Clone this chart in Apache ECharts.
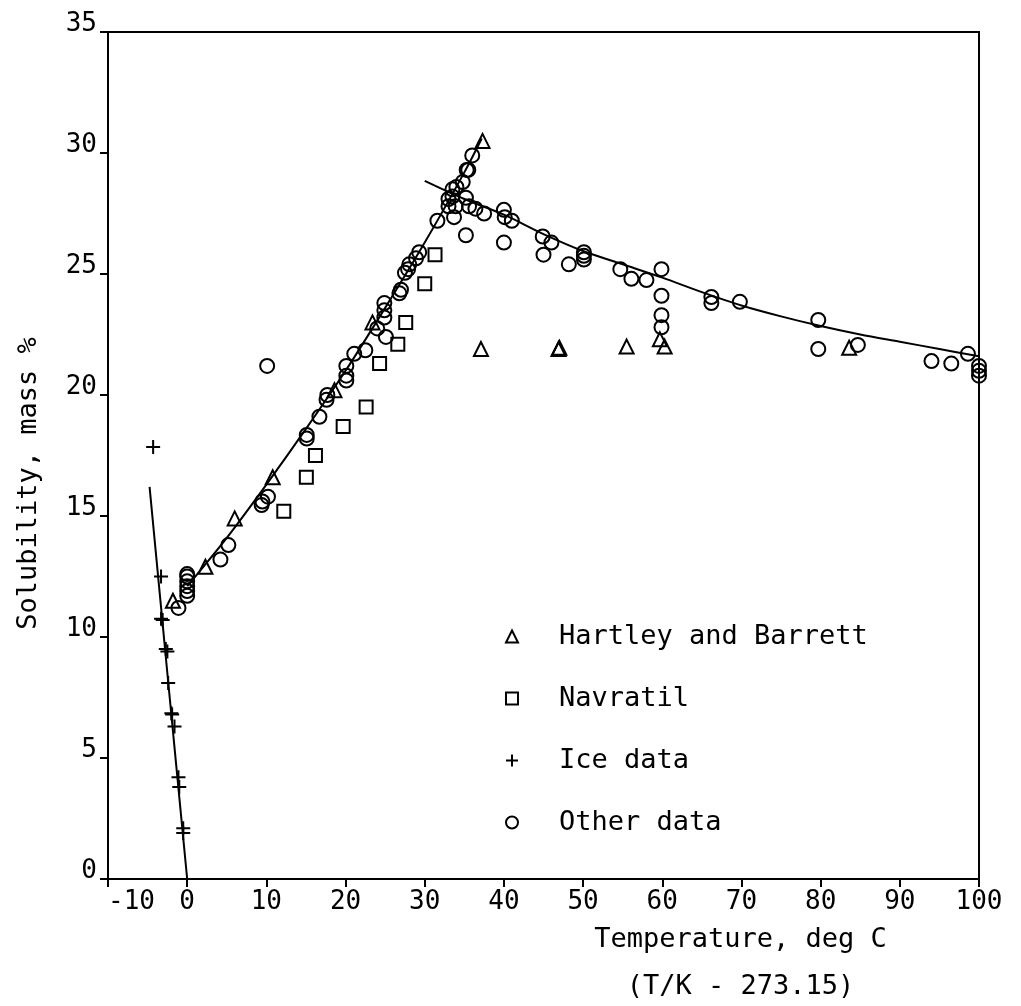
<!DOCTYPE html>
<html>
<head>
<meta charset="utf-8">
<script src="https://cdn.jsdelivr.net/npm/echarts@6/dist/echarts.min.js"></script>
<style>
html, body { margin: 0; padding: 0; background: #fff; }
#chart { width: 1021px; height: 1006px; }
</style>
</head>
<body>
<div id="chart"></div>
<script>
// [temperature degC, solubility mass %]
var hartleyData = [
	[-1.8, 11.5], [2.3, 12.9], [6.0, 14.9], [10.8, 16.6], [18.6, 20.2], [23.4, 23.0],
	[37.3, 30.5], [37.1, 21.9], [46.9, 21.9], [47.0, 21.95], [55.5, 22.0],
	[59.7, 22.3], [60.3, 22.0], [83.6, 21.95]
];
var navratilData = [
	[12.2, 15.2], [15.05, 16.6], [16.2, 17.5], [19.7, 18.7], [22.6, 19.5],
	[24.3, 21.3], [26.6, 22.1], [27.6, 23.0], [30.0, 24.6], [31.3, 25.8]
];
var iceData = [
	[-4.3, 17.85], [-3.3, 12.5], [-3.3, 10.75], [-3.1, 10.7], [-2.7, 9.5], [-2.5, 9.4],
	[-2.4, 8.1], [-2.0, 6.85], [-1.9, 6.8], [-1.6, 6.3], [-1.1, 4.2], [-1.0, 3.8],
	[-0.5, 2.1], [-0.5, 1.9]
];
var otherData = [
	[-1.1, 11.2], [0, 11.7], [0, 11.9], [0, 12.1], [0, 12.3], [0, 12.5], [0, 12.6],
	[4.2, 13.2], [5.2, 13.8], [9.4, 15.45], [9.5, 15.6], [10.2, 15.8], [10.1, 21.2],
	[15.1, 18.35], [15.1, 18.2], [16.7, 19.1], [17.7, 20.0], [17.6, 19.8],
	[20.1, 21.2], [20.1, 20.8], [20.1, 20.6], [21.1, 21.7], [22.5, 21.85],
	[24.0, 22.75], [25.1, 22.4], [24.9, 23.8], [24.9, 23.5], [24.9, 23.2],
	[27.0, 24.35], [26.8, 24.2], [27.5, 25.05], [27.9, 25.2], [28.05, 25.4],
	[28.9, 25.65], [29.3, 25.9], [31.6, 27.2], [33.0, 28.1], [33.0, 27.8],
	[33.5, 28.5], [33.5, 28.2], [33.7, 27.35], [33.9, 27.8], [34.0, 28.6],
	[34.8, 28.8], [35.2, 28.15], [35.3, 29.3], [35.5, 29.3], [36.0, 29.9],
	[35.6, 27.8], [36.4, 27.7], [37.5, 27.5], [35.2, 26.6], [40.0, 27.65],
	[40.1, 27.35], [41.0, 27.2], [40.0, 26.3], [44.9, 26.55], [46.0, 26.3],
	[45.0, 25.8], [48.2, 25.4], [50.1, 25.9], [50.1, 25.75], [50.1, 25.6],
	[54.7, 25.2], [56.1, 24.8], [58.0, 24.75], [59.9, 25.2], [59.9, 24.1],
	[59.9, 23.3], [59.9, 22.8], [66.2, 24.05], [66.2, 23.8], [69.8, 23.85],
	[79.7, 23.1], [79.7, 21.9], [84.7, 22.07], [94.0, 21.4], [96.5, 21.3],
	[98.6, 21.7], [100, 21.2], [100, 21.0], [100, 20.8]
];
// fitted curves
var iceCurve = [[-4.75, 16.2], [-2.4, 8.15], [0, 0]];
var lowCurve = [
	[0, 12.1], [5, 14.1], [10, 16.3], [15, 18.6], [20, 21.0], [25, 23.6],
	[30, 26.3], [35, 29.2], [37.2, 30.6]
];
var highCurve = [
	[30, 28.85], [35, 28.1], [40, 27.45], [45, 26.65], [50, 25.95], [55, 25.4],
	[60, 24.85], [65, 24.25], [70, 23.7], [75, 23.25], [80, 22.85], [85, 22.5],
	[90, 22.2], [95, 21.9], [100, 21.6]
];

var FONT = 'DejaVu Sans Mono';
var plusPath = 'path://M0,5L10,5M5,0L5,10';

function markerSeries(name, symbol, size, data) {
	return {
		name: name,
		type: 'scatter',
		symbol: symbol,
		symbolSize: size,
		symbolKeepAspect: true,
		z: 3,
		itemStyle: { color: 'rgba(0,0,0,0)', borderColor: '#000', borderWidth: 2, opacity: 1 },
		emphasis: { disabled: true },
		data: data
	};
}
function curveSeries(name, data) {
	return {
		name: name,
		type: 'line',
		showSymbol: false,
		smooth: 0.3,
		z: 2,
		lineStyle: { color: '#000', width: 2 },
		emphasis: { disabled: true },
		data: data
	};
}

var chart = echarts.init(document.getElementById('chart'));
chart.setOption({
	animation: false,
	backgroundColor: '#fff',
	textStyle: { fontFamily: FONT, color: '#000' },
	grid: {
		left: 108, right: 42, top: 32, bottom: 127,
		outerBoundsMode: 'none',
		containLabel: false,
		show: true, borderColor: '#000', borderWidth: 2, backgroundColor: 'transparent'
	},
	legend: {
		data: ['Hartley and Barrett', 'Navratil', 'Ice data', 'Other data'],
		orient: 'vertical',
		left: 500,
		top: 618,
		itemWidth: 12,
		itemHeight: 12,
		itemGap: 35,
		selectedMode: false,
		textStyle: { fontFamily: FONT, fontSize: 27, color: '#000', padding: [0, 0, 0, 36] }
	},
	xAxis: {
		type: 'value',
		min: -10, max: 100, interval: 10,
		name: 'Temperature, deg C\n(T/K - 273.15)',
		nameLocation: 'middle',
		nameMoveOverlap: false,
		nameGap: 37,
		nameTextStyle: {
			fontFamily: FONT, fontSize: 27, color: '#000', lineHeight: 47,
			verticalAlign: 'top', padding: [0, 0, 0, 394]
		},
		axisLine: { onZero: false, lineStyle: { color: '#000', width: 2 } },
		axisTick: { length: 8, lineStyle: { color: '#000', width: 2 } },
		axisLabel: { fontFamily: FONT, fontSize: 26, color: '#000', margin: 10, alignMinLabel: 'left' },
		splitLine: { show: false }
	},
	yAxis: {
		type: 'value',
		min: 0, max: 35, interval: 5,
		name: 'Solubility, mass %',
		nameLocation: 'middle',
		nameMoveOverlap: false,
		nameGap: 66,
		nameRotate: 90,
		nameTextStyle: { fontFamily: FONT, fontSize: 27, color: '#000', padding: [0, 56, 0, 0] },
		axisLine: { onZero: false, lineStyle: { color: '#000', width: 2 } },
		axisTick: { length: 8, lineStyle: { color: '#000', width: 2 } },
		axisLabel: { fontFamily: FONT, fontSize: 26, color: '#000', margin: 11, verticalAlign: 'bottom', lineHeight: 15 },
		splitLine: { show: false }
	},
	series: [
		curveSeries('ice curve', iceCurve),
		curveSeries('low curve', lowCurve),
		curveSeries('high curve', highCurve),
		markerSeries('Hartley and Barrett', 'triangle', 14, hartleyData),
		markerSeries('Navratil', 'rect', 13, navratilData),
		markerSeries('Ice data', plusPath, 14, iceData),
		markerSeries('Other data', 'circle', 14, otherData)
	]
});
</script>
</body>
</html>
